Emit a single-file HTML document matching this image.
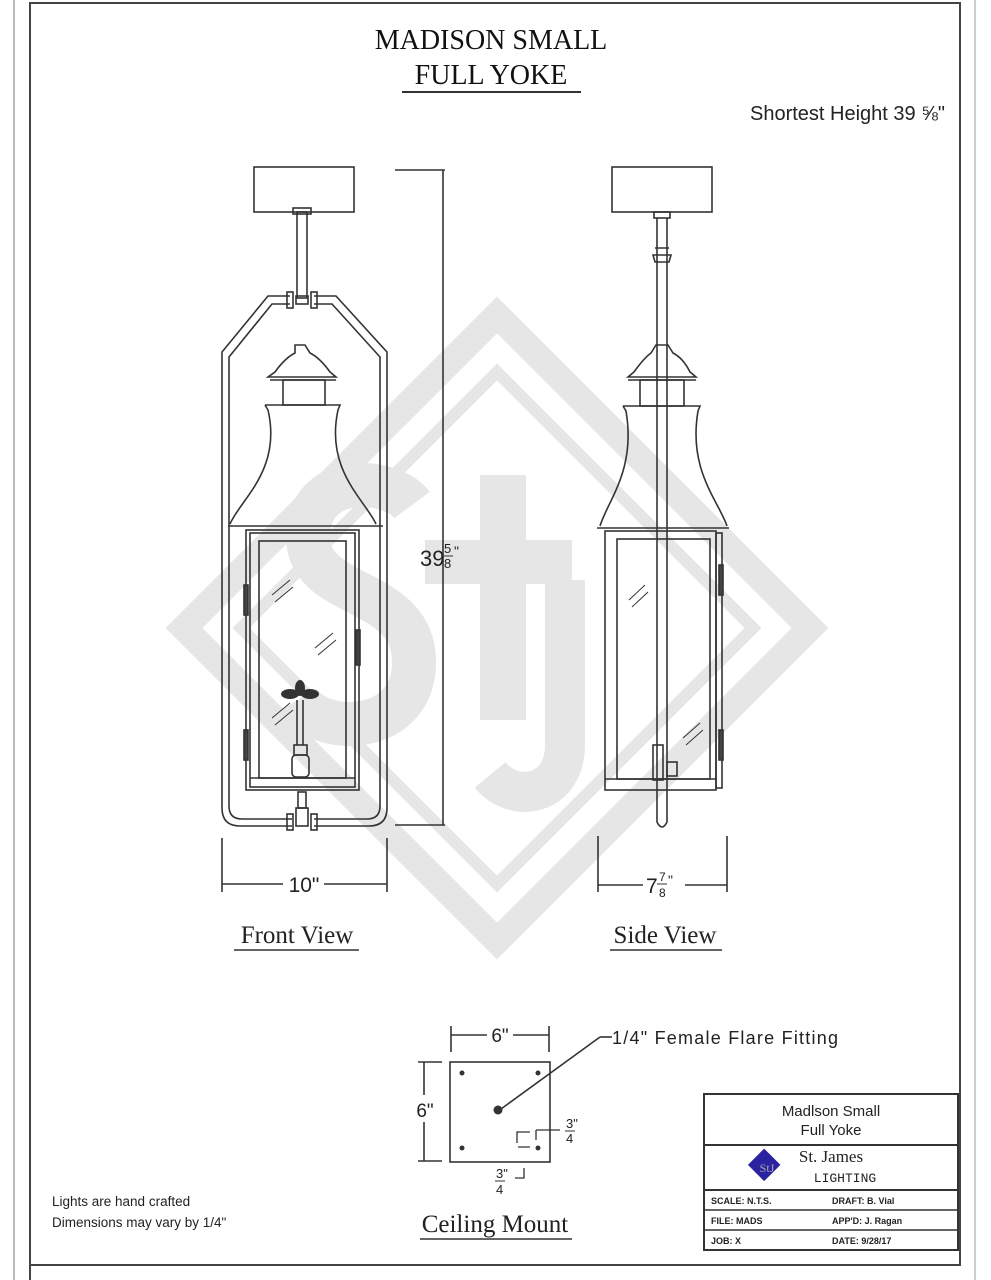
<!DOCTYPE html>
<html><head><meta charset="utf-8"><style>
html,body{margin:0;padding:0;background:#fff;}
svg{display:block;}
.s{font-family:"Liberation Sans",sans-serif;}
.r{font-family:"Liberation Serif",serif;}
</style></head><body>
<svg width="991" height="1280" viewBox="0 0 991 1280" xmlns="http://www.w3.org/2000/svg">
<rect width="991" height="1280" fill="#fff"/>
<!-- frame -->
<line x1="14" y1="0" x2="14" y2="1280" stroke="#bbb" stroke-width="2"/>
<path d="M30,1280 V3 H960 V1265 H30" fill="none" stroke="#444" stroke-width="2"/>
<line x1="975" y1="0" x2="975" y2="1280" stroke="#ccc" stroke-width="2"/>

<!-- watermark -->
<g fill="none" stroke="#e6e6e6">
<path d="M497,315 L810,628 L497,941 L184,628 Z" stroke-width="26"/>
<path d="M497,372 L753,628 L497,884 L241,628 Z" stroke-width="12"/>
<path d="M412,505 C392,478 310,470 308,535 C306,600 412,585 414,660 C416,735 320,738 298,700" stroke-width="44"/>
<path d="M503,475 V720" stroke-width="46"/>
<path d="M425,562 H572" stroke-width="44"/>
<path d="M565,580 V745 C565,795 515,805 490,775" stroke-width="40"/>
</g>

<!-- Title -->
<text x="491" y="49" text-anchor="middle" class="r" font-size="28" fill="#111">MADISON SMALL</text>
<text x="491" y="84" text-anchor="middle" class="r" font-size="28" fill="#111">FULL YOKE</text>
<line x1="402" y1="92" x2="581" y2="92" stroke="#333" stroke-width="2"/>
<text x="945" y="120" text-anchor="end" class="s" font-size="20" fill="#222">Shortest Height 39 ⅝"</text>

<g fill="none" stroke="#333" stroke-width="1.6">
<!-- FRONT VIEW -->
<rect x="254" y="167" width="100" height="45"/>
<rect x="297" y="212" width="10" height="86"/>
<rect x="293" y="208" width="18" height="6"/>
<path d="M290,296 H268 L222,352 V808 Q222,826 240,826 H292"/>
<path d="M290,304 H272 L229,357 V806 Q229,819 242,819 H292"/>
<path d="M314,296 H336 L387,352 V808 Q387,826 369,826 H314"/>
<path d="M314,304 H332 L380,357 V806 Q380,819 367,819 H314"/>
<rect x="287" y="292" width="6" height="16"/><rect x="311" y="292" width="6" height="16"/>
<rect x="296" y="296" width="12" height="8"/>
<rect x="287" y="814" width="6" height="16"/><rect x="311" y="814" width="6" height="16"/>
<rect x="296" y="808" width="12" height="18"/>
<rect x="298" y="792" width="8" height="16"/>
<path d="M295,345 H305 L310,353 Q320,358 330,372 L336,377 H268 L275,372 Q285,358 295,353 Z"/>
<line x1="270" y1="380" x2="336" y2="380"/>
<rect x="283" y="380" width="42" height="25"/>
<path d="M265,405 H340 L338,410 C325,470 365,500 376,524 M265,405 L268,410 C282,470 240,500 230,524"/>
<line x1="228" y1="526" x2="383" y2="526"/>
<rect x="246" y="530" width="113" height="260"/>
<rect x="250" y="533" width="105" height="254"/>
<rect x="259" y="541" width="87" height="237"/>
<line x1="250" y1="778" x2="355" y2="778"/>
<rect x="244" y="585" width="4" height="30" fill="#444"/>
<rect x="244" y="730" width="4" height="30" fill="#444"/>
<rect x="356" y="630" width="4" height="35" fill="#444"/>
<path d="M272,595 L290,580 M275,602 L293,587 M315,648 L333,633 M318,655 L336,640 M272,718 L290,703 M275,725 L293,710" stroke-width="1"/>
<line x1="297" y1="700" x2="297" y2="745"/><line x1="303" y1="700" x2="303" y2="745"/>
<rect x="294" y="745" width="13" height="10"/>
<rect x="292" y="755" width="17" height="22" rx="4"/>
<line x1="395" y1="170" x2="445" y2="170"/><line x1="443" y1="170" x2="443" y2="825"/>
<line x1="395" y1="825" x2="445" y2="825"/>
<line x1="222" y1="838" x2="222" y2="892"/><line x1="387" y1="838" x2="387" y2="892"/>
<line x1="222" y1="884" x2="283" y2="884"/><line x1="324" y1="884" x2="387" y2="884"/>

<!-- SIDE VIEW -->
<rect x="612" y="167" width="100" height="45"/>
<rect x="654" y="212" width="16" height="6"/>
<path d="M657,218 V822 Q662,832 667,822 V218"/>
<path d="M655,248 H669 M653,255 H671 L669,262 H655 Z"/>
<path d="M656,345 H668 L673,353 Q683,358 690,372 L696,377 H628 L634,372 Q644,358 651,353 Z"/>
<line x1="628" y1="380" x2="696" y2="380"/>
<rect x="640" y="380" width="44" height="26"/>
<path d="M623,406 H700 L698,411 C688,470 718,500 727,526 M623,406 L626,411 C636,470 608,500 600,526"/>
<line x1="597" y1="528" x2="729" y2="528"/>
<rect x="605" y="531" width="111" height="259"/>
<rect x="617" y="539" width="93" height="240"/>
<line x1="605" y1="779" x2="716" y2="779"/>
<rect x="716" y="533" width="6" height="255"/>
<rect x="719" y="565" width="4" height="30" fill="#444"/>
<rect x="719" y="730" width="4" height="30" fill="#444"/>
<rect x="653" y="745" width="10" height="35"/><rect x="667" y="762" width="10" height="14"/>
<path d="M629,600 L645,585 M632,607 L648,592 M683,738 L700,723 M686,745 L703,730" stroke-width="1"/>
<line x1="598" y1="836" x2="598" y2="892"/><line x1="727" y1="836" x2="727" y2="892"/>
<line x1="598" y1="885" x2="643" y2="885"/><line x1="685" y1="885" x2="727" y2="885"/>

<!-- CEILING MOUNT -->
<rect x="450" y="1062" width="100" height="100"/>
<line x1="451" y1="1026" x2="451" y2="1052"/><line x1="549" y1="1026" x2="549" y2="1052"/>
<line x1="451" y1="1035" x2="487" y2="1035"/><line x1="513" y1="1035" x2="549" y2="1035"/>
<line x1="418" y1="1062" x2="442" y2="1062"/><line x1="418" y1="1161" x2="442" y2="1161"/>
<line x1="424" y1="1062" x2="424" y2="1095"/><line x1="424" y1="1122" x2="424" y2="1161"/>
<line x1="501" y1="1109" x2="600" y2="1037"/><line x1="600" y1="1037" x2="612" y2="1037"/>
<path d="M517,1143 V1132 H530 M518,1147 H530 M536,1130 V1140 M536,1130 H560" stroke-width="1.3"/>
<path d="M524,1168 V1178 H515" stroke-width="1.3"/>

<rect x="704" y="1094" width="254" height="156" stroke-width="2"/>
<line x1="704" y1="1145" x2="958" y2="1145" stroke-width="2"/>
<line x1="704" y1="1190" x2="958" y2="1190" stroke-width="2"/>
<line x1="704" y1="1210" x2="958" y2="1210" stroke-width="1.5"/>
<line x1="704" y1="1230" x2="958" y2="1230" stroke-width="1.5"/>
</g>
<g fill="#333">
<circle cx="462" cy="1073" r="2.5"/><circle cx="538" cy="1073" r="2.5"/>
<circle cx="462" cy="1148" r="2.5"/><circle cx="538" cy="1148" r="2.5"/>
<circle cx="498" cy="1110" r="4.5"/>
<ellipse cx="290" cy="694" rx="9" ry="5"/><ellipse cx="310" cy="694" rx="9" ry="5"/><ellipse cx="300" cy="688" rx="5" ry="8"/>
</g>

<g class="s" fill="#222">
<text x="420" y="566" font-size="22">39</text>
<text x="444" y="553" font-size="13">5</text>
<line x1="443" y1="556" x2="453" y2="556" stroke="#333"/>
<text x="444" y="568" font-size="13">8</text>
<text x="454" y="556" font-size="14">"</text>
<text x="304" y="892" text-anchor="middle" font-size="21">10"</text>
<text x="646" y="893" font-size="21">7</text>
<text x="659" y="881" font-size="12">7</text>
<line x1="657" y1="884" x2="667" y2="884" stroke="#333"/>
<text x="659" y="897" font-size="12">8</text>
<text x="668" y="885" font-size="14">"</text>
<text x="500" y="1042" text-anchor="middle" font-size="19">6"</text>
<text x="425" y="1117" text-anchor="middle" font-size="19">6"</text>
<text x="612" y="1044" font-size="18" textLength="226" lengthAdjust="spacing">1/4" Female Flare Fitting</text>
<text x="566" y="1128" font-size="13">3"</text><line x1="565" y1="1131" x2="575" y2="1131" stroke="#333"/><text x="566" y="1143" font-size="13">4</text>
<text x="496" y="1178" font-size="13">3"</text><line x1="495" y1="1181" x2="505" y2="1181" stroke="#333"/><text x="496" y="1194" font-size="13">4</text>
<text x="52" y="1206" font-size="13.5">Lights are hand crafted</text>
<text x="52" y="1227" font-size="13.5">Dimensions may vary by 1/4"</text>
<text x="831" y="1116" text-anchor="middle" font-size="15">Madlson Small</text>
<text x="831" y="1135" text-anchor="middle" font-size="15">Full Yoke</text>
<text x="711" y="1204" font-size="9" font-weight="bold">SCALE: N.T.S.</text>
<text x="832" y="1204" font-size="9" font-weight="bold">DRAFT:  B. Vial</text>
<text x="711" y="1224" font-size="9" font-weight="bold">FILE:  MADS</text>
<text x="832" y="1224" font-size="9" font-weight="bold">APP'D:  J. Ragan</text>
<text x="711" y="1244" font-size="9" font-weight="bold">JOB:   X</text>
<text x="832" y="1244" font-size="9" font-weight="bold">DATE:  9/28/17</text>
</g>
<rect x="752" y="1156" width="23" height="23" transform="rotate(45 767 1167)" fill="#2a22a0"/>
<text x="767" y="1172" text-anchor="middle" class="r" font-size="12" fill="#aaa">StJ</text>
<text x="831" y="1162" text-anchor="middle" class="r" font-size="17" fill="#222">St. James</text>
<text x="845" y="1182" text-anchor="middle" font-family="Liberation Mono,monospace" font-size="13" fill="#222">LIGHTING</text>

<g class="r" fill="#222">
<text x="297" y="943" text-anchor="middle" font-size="25">Front View</text>
<text x="665" y="943" text-anchor="middle" font-size="25">Side View</text>
<text x="495" y="1232" text-anchor="middle" font-size="25">Ceiling Mount</text>
</g>
<g stroke="#333" stroke-width="1.5">
<line x1="234" y1="950" x2="359" y2="950"/>
<line x1="610" y1="950" x2="722" y2="950"/>
<line x1="420" y1="1239" x2="572" y2="1239"/>
</g>
</svg>
</body></html>
